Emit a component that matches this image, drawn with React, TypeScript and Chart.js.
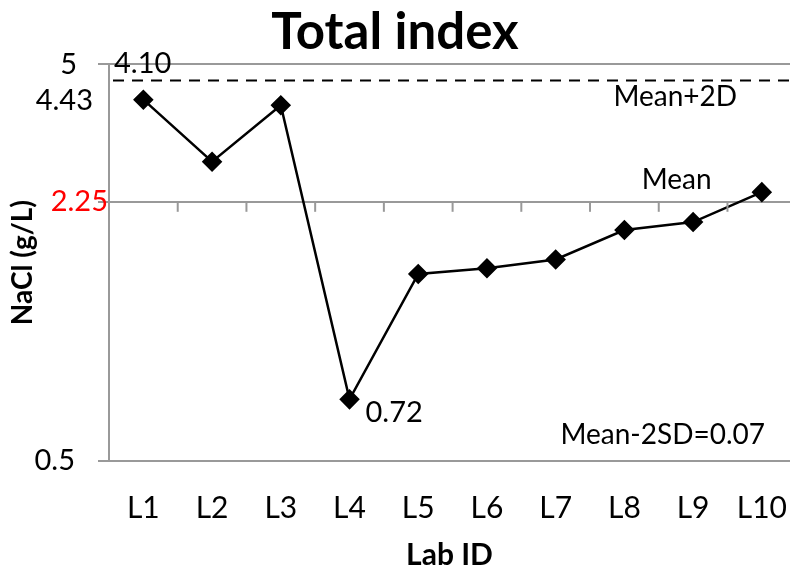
import React, { useEffect, useRef } from 'react';
import { Chart, registerables } from 'chart.js';
Chart.register(...registerables);

const labs = ['L1', 'L2', 'L3', 'L4', 'L5', 'L6', 'L7', 'L8', 'L9', 'L10'];
const nacl = [4.07, 2.84, 3.94, 0.715, 1.48, 1.53, 1.61, 1.91, 2.0, 2.38];
const yTickValues = [0.5, 2.25, 5];
const meanValue = 2.25;
const meanPlus2SD = 4.55;
const FONT = 'Lato, "Open Sans", sans-serif';

const overlay = {
  id: 'overlay',
  afterDraw(chart: any) {
    const { ctx, chartArea } = chart;
    const xs = chart.scales.x;
    const ys = chart.scales.y;
    ctx.save();
    const yd = ys.getPixelForValue(meanPlus2SD);
    ctx.strokeStyle = '#000';
    ctx.lineWidth = 2;
    ctx.setLineDash([11, 8]);
    ctx.beginPath();
    ctx.moveTo(chartArea.left + 4, yd);
    ctx.lineTo(chartArea.right, yd);
    ctx.stroke();
    ctx.setLineDash([]);
    const ym = ys.getPixelForValue(meanValue);
    ctx.strokeStyle = '#999';
    ctx.lineWidth = 2;
    for (let i = 1; i <= labs.length; i++) {
      const x = xs.getPixelForValue(i + 0.5);
      ctx.beginPath();
      ctx.moveTo(x, ym);
      ctx.lineTo(x, ym + 10);
      ctx.stroke();
    }
    ctx.font = '29px ' + FONT;
    ctx.textBaseline = 'middle';
    ctx.fillStyle = '#000';
    const y5 = ys.getPixelForValue(5);
    const y05 = ys.getPixelForValue(0.5);
    ctx.textAlign = 'right';
    ctx.fillText('5', chartArea.left - 32, y5);
    ctx.fillText('4.43', chartArea.left - 16, y5 + 36);
    ctx.fillText('0.5', chartArea.left - 34, y05);
    ctx.fillStyle = '#ff0000';
    ctx.fillText('2.25', chartArea.left - 1, ym);
    ctx.fillStyle = '#000';
    ctx.textAlign = 'left';
    ctx.fillText('4.10', chartArea.left + 5, y5 - 1);
    const p4x = xs.getPixelForValue(4);
    const p4y = ys.getPixelForValue(nacl[3]);
    ctx.fillText('0.72', p4x + 16, p4y + 13);
    ctx.font = '28px ' + FONT;
    ctx.textAlign = 'center';
    ctx.fillText('Mean+2D', xs.getPixelForValue(8.74), yd + 17);
    ctx.fillText('Mean', xs.getPixelForValue(8.76), ym - 22);
    ctx.textAlign = 'right';
    ctx.fillText('Mean-2SD=0.07', 765, y05 - 26);
    ctx.restore();
  },
};

export default function App() {
  const ref = useRef<HTMLCanvasElement>(null);
  useEffect(() => {
    const chart = new Chart(ref.current!, {
      type: 'line',
      data: {
        datasets: [
          {
            data: nacl.map((v, i) => ({ x: i + 1, y: v })),
            borderColor: '#000',
            backgroundColor: '#000',
            borderWidth: 2.5,
            pointStyle: 'rectRot',
            pointRadius: 8.5,
            pointHoverRadius: 8.5,
            tension: 0,
          },
        ],
      },
      options: {
        responsive: false,
        animation: false,
        devicePixelRatio: 1,
        layout: { autoPadding: false, padding: { left: 0, right: 0, top: 0, bottom: 0 } },
        plugins: {
          legend: { display: false },
          tooltip: { enabled: false },
          title: {
            display: true,
            text: 'Total index',
            color: '#000',
            font: { family: FONT, size: 51, weight: 'bold', lineHeight: 1.2 },
            padding: { top: 2, bottom: 1 },
          },
        },
        scales: {
          x: {
            type: 'linear',
            min: 0.5,
            max: 10.41,
            afterBuildTicks: (s: any) => {
              s.ticks = labs.map((_, i) => ({ value: i + 1 }));
            },
            afterFit: (s: any) => {
              s.height = 109;
              s.paddingLeft = 0;
              s.paddingRight = 0;
            },
            grid: { display: false, drawTicks: false },
            border: { display: true, color: '#999', width: 2 },
            ticks: {
              color: '#000',
              font: { family: FONT, size: 30 },
              padding: 29,
              maxRotation: 0,
              autoSkip: false,
              callback: (v: any) => labs[Math.round(v) - 1] ?? '',
            },
            title: {
              display: true,
              text: 'Lab ID',
              color: '#000',
              font: { family: FONT, size: 30, weight: 'bold', lineHeight: 1 },
              padding: { top: 0, bottom: 0 },
            },
          },
          y: {
            type: 'logarithmic',
            min: 0.5,
            max: 5,
            afterBuildTicks: (s: any) => {
              s.ticks = yTickValues.map((v) => ({ value: v }));
            },
            afterFit: (s: any) => {
              s.width = 109;
              s.paddingTop = 0;
              s.paddingBottom = 0;
            },
            grid: { color: '#999', lineWidth: 2, tickLength: 11, drawTicks: true },
            border: { display: true, color: '#999', width: 2 },
            ticks: { display: false },
            title: {
              display: true,
              text: 'NaCl (g/L)',
              color: '#000',
              font: { family: FONT, size: 28, weight: 'bold' },
              padding: { top: 6, bottom: 0 },
            },
          },
        },
      },
      plugins: [overlay],
    });
    return () => chart.destroy();
  }, []);
  return (
    <div style={{ position: 'absolute', left: 0, top: 0, width: 790, height: 570 }}>
      <canvas ref={ref} width={790} height={570} />
    </div>
  );
}
